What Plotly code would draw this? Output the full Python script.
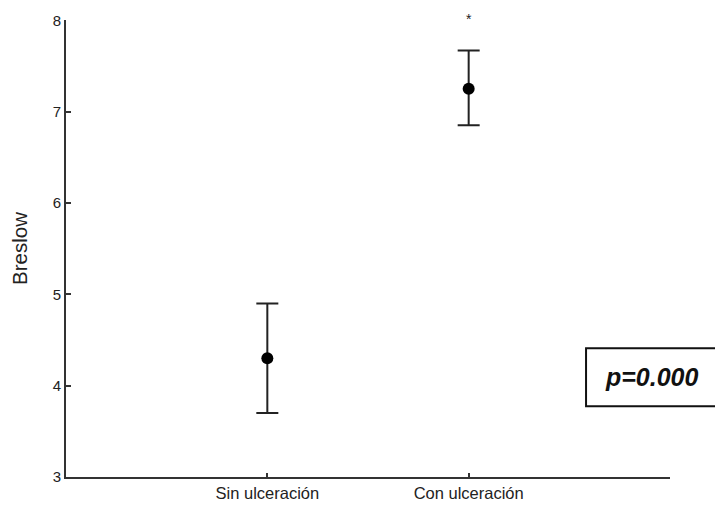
import plotly.graph_objects as go

categories = ["Sin ulceración", "Con ulceración"]
means = [4.30, 7.25]
upper = [4.90, 7.67]
lower = [3.70, 6.85]
y_ticks = [3, 4, 5, 6, 7, 8]
star_y = 8.0
p_text = "p=0.000"

err_plus = [u - m for u, m in zip(upper, means)]
err_minus = [m - l for m, l in zip(means, lower)]

FONT = "Liberation Sans, Arial"

fig = go.Figure()
fig.add_trace(go.Scatter(
    x=categories, y=means, mode="markers",
    marker=dict(color="black", size=12),
    error_y=dict(type="data", symmetric=False, array=err_plus, arrayminus=err_minus,
                 color="#222222", thickness=2, width=11),
    showlegend=False, cliponaxis=False,
))
# significance asterisk
fig.add_trace(go.Scatter(
    x=[categories[1]], y=[star_y], mode="text", text=["*"],
    textposition="middle center",
    textfont=dict(family=FONT, size=14, color="#222222"),
    showlegend=False, cliponaxis=False, hoverinfo="skip",
))

fig.add_shape(type="rect", xref="paper", yref="paper",
              x0=0.861, x1=1.2, y0=0.155, y1=0.282,
              line=dict(color="#111111", width=2), fillcolor="white")
fig.add_annotation(xref="paper", yref="paper", x=0.970, y=0.219,
                   xanchor="center", yanchor="middle",
                   text="<b><i>" + p_text + "</i></b>",
                   showarrow=False, font=dict(family=FONT, size=25, color="#111111"))

fig.update_layout(
    width=715, height=499,
    margin=dict(l=58, r=53, t=12, b=30),
    paper_bgcolor="white", plot_bgcolor="white",
    font=dict(family=FONT, size=14, color="#222222"),
)
fig.update_xaxes(
    type="category", range=[-1, 2], showgrid=False, zeroline=False,
    automargin=False,
    showline=True, linecolor="#333333", linewidth=2,
    ticks="inside", ticklen=4, tickcolor="#333333", tickwidth=1.5,
    tickfont=dict(size=16.5, color="#222222"),
)
fig.update_yaxes(
    range=[3, 8.003], tickvals=y_ticks, showgrid=False, zeroline=False,
    automargin=False,
    showline=True, linecolor="#333333", linewidth=2,
    ticks="inside", ticklen=5, tickcolor="#333333", tickwidth=1.5,
    tickfont=dict(size=15, color="#222222"),
    title=dict(text="Breslow", font=dict(size=20.5, color="#222222"), standoff=20),
)

fig.write_html("out.html")
